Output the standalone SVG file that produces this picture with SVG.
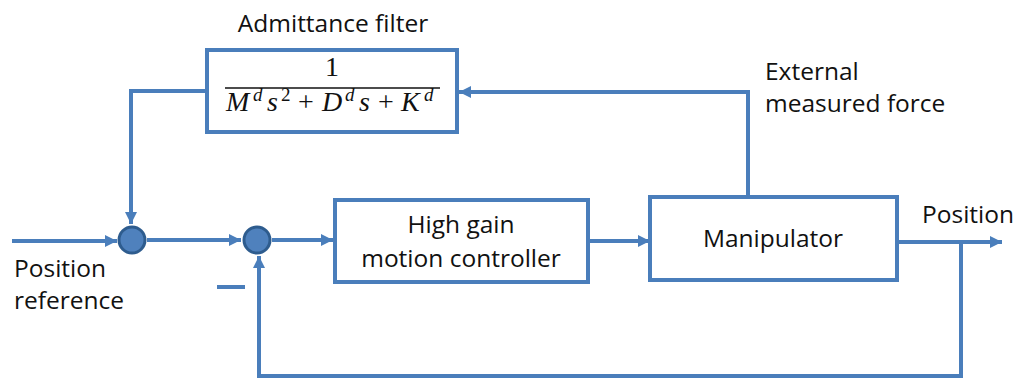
<svg xmlns="http://www.w3.org/2000/svg" width="1021" height="380" viewBox="0 0 1021 380">
<defs>
<marker id="arr" markerUnits="userSpaceOnUse" markerWidth="14" markerHeight="14" refX="12" refY="6" orient="auto">
<path d="M0,0 L12,6 L0,12 Z" fill="#4A7EBB"/>
</marker>
</defs>
<style>
.box{fill:#fff;stroke:#4A7EBB;stroke-width:4}
.ln{fill:none;stroke:#4A7EBB;stroke-width:4}
.lbl{font-family:"Open Sans","Liberation Sans",sans-serif;font-size:24.5px;fill:#111}
.sum{fill:#4F81BD;stroke:#2E5C8E;stroke-width:3}
.math{font-family:"Liberation Serif",serif;font-size:28px;fill:#111}
.it{font-style:italic}
.sup{font-size:19px}
</style>
<rect width="1021" height="380" fill="#fff"/>
<g id="connectors">
<path class="ln" d="M12,241 H117" marker-end="url(#arr)"/>
<path class="ln" d="M207,91 H131 V224" marker-end="url(#arr)"/>
<path class="ln" d="M147,240 H241" marker-end="url(#arr)"/>
<path class="ln" d="M272,240 H333" marker-end="url(#arr)"/>
<path class="ln" d="M588,241 H650" marker-end="url(#arr)"/>
<path class="ln" d="M748,197 V92 H459" marker-end="url(#arr)"/>
<path class="ln" d="M897,242 H1002" marker-end="url(#arr)"/>
<path class="ln" d="M961,242 V376 H259 V256" marker-end="url(#arr)"/>
<path class="ln" d="M217,287 H245"/>
</g>
<g id="admittance">
<text class="lbl" x="333" y="32" text-anchor="middle">Admittance filter</text>
<rect class="box" x="207" y="50" width="250" height="82"/>
<text class="math" x="332" y="76" text-anchor="middle">1</text>
<line x1="225" y1="88" x2="440" y2="88" stroke="#111" stroke-width="1.4"/>
<text class="math">
<tspan class="it" x="226" y="111">M</tspan>
<tspan class="it sup" x="253" y="101">d</tspan>
<tspan class="it" x="267" y="111">s</tspan>
<tspan class="sup" x="281" y="101">2</tspan>
<tspan x="298" y="111">+</tspan>
<tspan class="it" x="322" y="111">D</tspan>
<tspan class="it sup" x="345" y="101">d</tspan>
<tspan class="it" x="359" y="111">s</tspan>
<tspan x="378" y="111">+</tspan>
<tspan class="it" x="401" y="111">K</tspan>
<tspan class="it sup" x="424" y="101">d</tspan>
</text>
</g>
<g id="sum1"><circle class="sum" cx="132" cy="240" r="13"/></g>
<g id="sum2"><circle class="sum" cx="257" cy="240" r="13"/></g>
<g id="controller">
<rect class="box" x="335" y="200" width="253" height="82"/>
<text class="lbl" x="461" y="233" text-anchor="middle">High gain</text>
<text class="lbl" x="461" y="267" text-anchor="middle">motion controller</text>
</g>
<g id="manipulator">
<rect class="box" x="650" y="197" width="247" height="83"/>
<text class="lbl" x="773" y="247" text-anchor="middle">Manipulator</text>
</g>
<g id="labels">
<text class="lbl" x="765" y="80">External</text>
<text class="lbl" x="765" y="112">measured force</text>
<text class="lbl" x="922" y="223">Position</text>
<text class="lbl" x="14" y="277">Position</text>
<text class="lbl" x="14" y="309">reference</text>
</g>
</svg>
